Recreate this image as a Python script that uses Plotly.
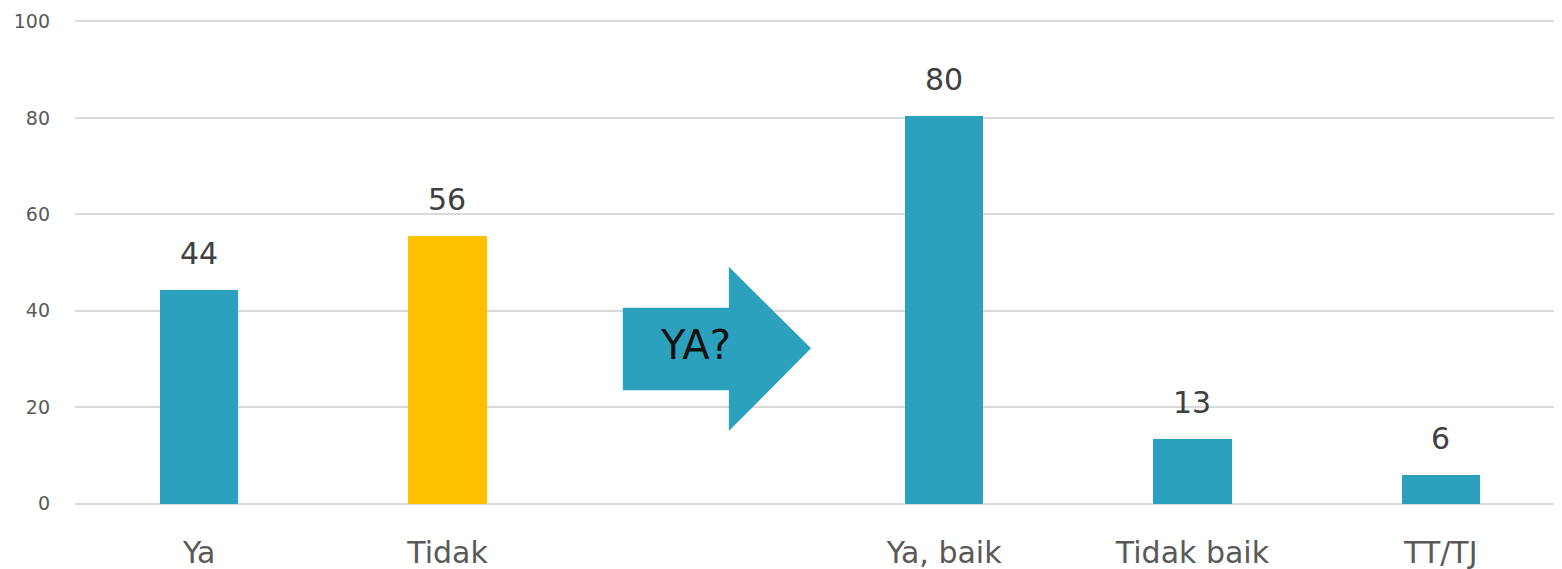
import plotly.graph_objects as go

categories = ["Ya", "Tidak", " ", "Ya, baik", "Tidak baik", "TT/TJ"]
values = [44.3, 55.6, None, 80.4, 13.4, 6.0]
labels = ["44", "56", "", "80", "13", "6"]
colors = ["#2CA1BE", "#FFC000", "#2CA1BE", "#2CA1BE", "#2CA1BE", "#2CA1BE"]
arrow_text = "YA?"

FONT = "DejaVu Sans, Verdana, sans-serif"

fig = go.Figure()
fig.add_trace(go.Bar(
    x=categories, y=values, marker=dict(color=colors, line=dict(width=0)),
    width=0.315, hoverinfo="skip",
))

for c, v, t in zip(categories, values, labels):
    if v is None:
        continue
    fig.add_annotation(x=c, y=v, text=t, showarrow=False, yanchor="bottom",
                       yshift=17, font=dict(family=FONT, size=30, color="#404040"))

# decorative arrow between the two groups
fig.add_shape(type="path", xref="x", yref="y",
              path="M1.706,40.6 L2.133,40.6 L2.133,49.1 L2.464,32.2 L2.133,15.05 L2.133,23.5 L1.706,23.5 Z",
              fillcolor="#2CA1BE", line=dict(width=0), layer="above")
fig.add_annotation(x=2.0, y=32.9, xref="x", yref="y", text=arrow_text, showarrow=False,
                   font=dict(family=FONT, size=40, color="#111111"))

# the page body has an 8px margin, so the figure is a little smaller and offset
fig.update_layout(
    width=1554, height=561,
    margin=dict(l=67, r=2, t=12, b=64),
    paper_bgcolor="white", plot_bgcolor="white",
    showlegend=False, bargap=0,
    font=dict(family=FONT),
)
fig.update_xaxes(
    type="category", range=[-0.5, 5.48], showgrid=False, zeroline=False, showline=False,
    ticks="", tickfont=dict(family=FONT, size=30, color="#595959"), ticklabelstandoff=27,
    automargin=False,
)
fig.update_yaxes(
    range=[-0.3, 100.3], tickvals=[0, 20, 40, 60, 80, 100], showgrid=True,
    gridcolor="#D9D9D9", gridwidth=1.5, zeroline=False, showline=False, ticks="",
    tickfont=dict(family=FONT, size=19, color="#595959"), ticklabelstandoff=24,
    automargin=False,
)

fig.write_html("out.html")
